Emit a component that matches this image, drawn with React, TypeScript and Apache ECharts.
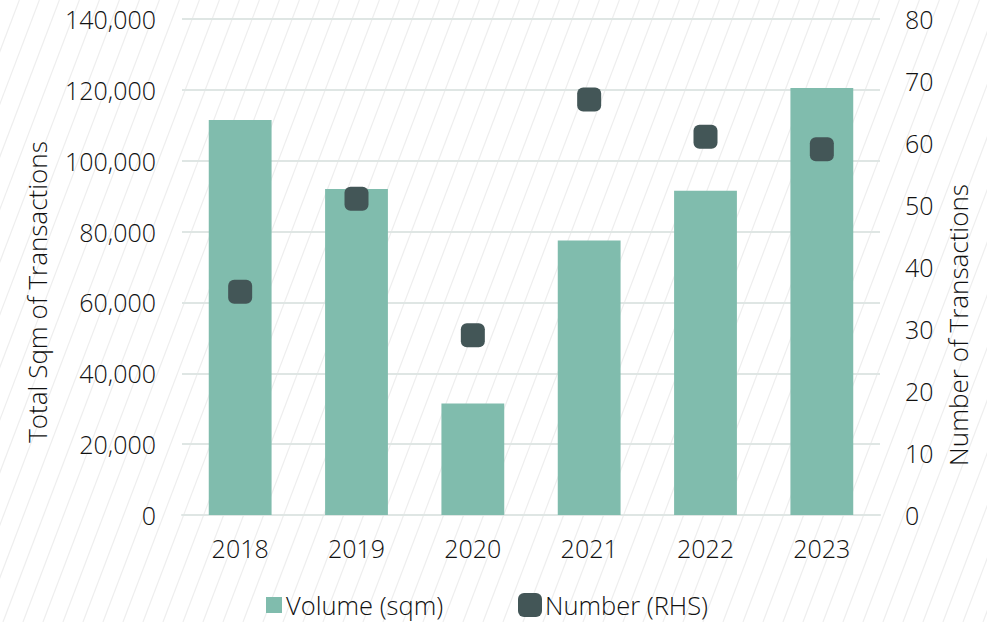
import React, { useEffect, useRef } from "react";
import * as echarts from "echarts";

const categories = ["2018", "2019", "2020", "2021", "2022", "2023"];
const volumeSqm = [111500, 92000, 31500, 77500, 91500, 120500];
const numberRHS = [36, 51, 29, 67, 61, 59];

const W = 987;
const H = 622;
const FONT = "'Open Sans', Lato, sans-serif";
const FW = 300;
const FS = 25;
const FS_BIG = 26;
const TEXT = "#111111";
const GRID = "#dfe6e4";
const BAR = "#80bcad";
const DOT = "#435657";

function hatch() {
  const els: any[] = [];
  const slope = 0.38;
  const step = 20;
  for (let x = -Math.ceil(H * slope); x < W + step; x += step) {
    els.push({
      type: "line",
      silent: true,
      z: -10,
      shape: { x1: x, y1: H, x2: x + H * slope, y2: 0 },
      style: { stroke: "#eeeeee", lineWidth: 1.2 },
    });
  }
  return els;
}

export default function App() {
  const ref = useRef<HTMLDivElement>(null);
  useEffect(() => {
    if (!ref.current) return;
    const chart = echarts.init(ref.current, null, { renderer: "svg" });
    const ts = { fontFamily: FONT, fontSize: FS, fontWeight: FW, color: TEXT };
    const tsLeg = { fontFamily: FONT, fontSize: 25.5, fontWeight: FW, color: TEXT, lineHeight: 24 };
    chart.setOption({
      animation: false,
      backgroundColor: "#ffffff",
      textStyle: { fontFamily: FONT },
      grid: { left: 182, right: 107, top: 19, bottom: 107, containLabel: false },
      legend: [
        {
          data: [{ name: "Volume (sqm)", icon: "rect" }],
          left: 266,
          top: 592,
          padding: 0,
          itemWidth: 16,
          itemHeight: 16,
          textStyle: { ...tsLeg, padding: [0, 0, 0, -1] },
        },
        {
          data: [{ name: "Number (RHS)", icon: "roundRect" }],
          left: 518,
          top: 592,
          padding: 0,
          itemWidth: 24,
          itemHeight: 24,
          textStyle: { ...tsLeg, padding: [0, 0, 0, -2] },
        },
      ],
      xAxis: {
        type: "category",
        data: categories,
        axisLine: { lineStyle: { color: GRID, width: 2 } },
        axisTick: { show: false },
        axisLabel: { margin: 20, ...ts },
      },
      yAxis: [
        {
          type: "value",
          min: 0,
          max: 140000,
          interval: 20000,
          axisLine: { show: false },
          axisTick: { show: false },
          splitLine: { lineStyle: { color: GRID, width: 2 } },
          axisLabel: {
            margin: 26,
            ...ts,
            formatter: (v: number) => v.toLocaleString("en-US"),
          },
        },
        {
          type: "value",
          min: 0,
          max: 80,
          interval: 10,
          position: "right",
          axisLine: { show: false },
          axisTick: { show: false },
          splitLine: { show: false },
          axisLabel: { margin: 25, ...ts },
        },
      ],
      graphic: [
        ...hatch(),
        {
          type: "text",
          x: 37,
          y: 292,
          rotation: Math.PI / 2,
          silent: true,
          style: {
            text: "Total Sqm of Transactions",
            fontSize: FS_BIG,
            fontWeight: FW,
            fontFamily: FONT,
            fill: TEXT,
            align: "center",
            verticalAlign: "middle",
          },
        },
        {
          type: "text",
          x: 958,
          y: 325,
          rotation: Math.PI / 2,
          silent: true,
          style: {
            text: "Number of Transactions",
            fontSize: FS_BIG,
            fontWeight: FW,
            fontFamily: FONT,
            fill: TEXT,
            align: "center",
            verticalAlign: "middle",
          },
        },
      ],
      series: [
        {
          name: "Volume (sqm)",
          type: "bar",
          data: volumeSqm,
          barWidth: "54%",
          itemStyle: { color: BAR },
          yAxisIndex: 0,
        },
        {
          name: "Number (RHS)",
          type: "scatter",
          data: numberRHS,
          yAxisIndex: 1,
          symbol: "roundRect",
          symbolSize: 24,
          itemStyle: { color: DOT, opacity: 1 },
        },
      ],
    });
    return () => chart.dispose();
  }, []);
  return <div ref={ref} style={{ width: W, height: H, position: "absolute", left: 0, top: 0 }} />;
}
